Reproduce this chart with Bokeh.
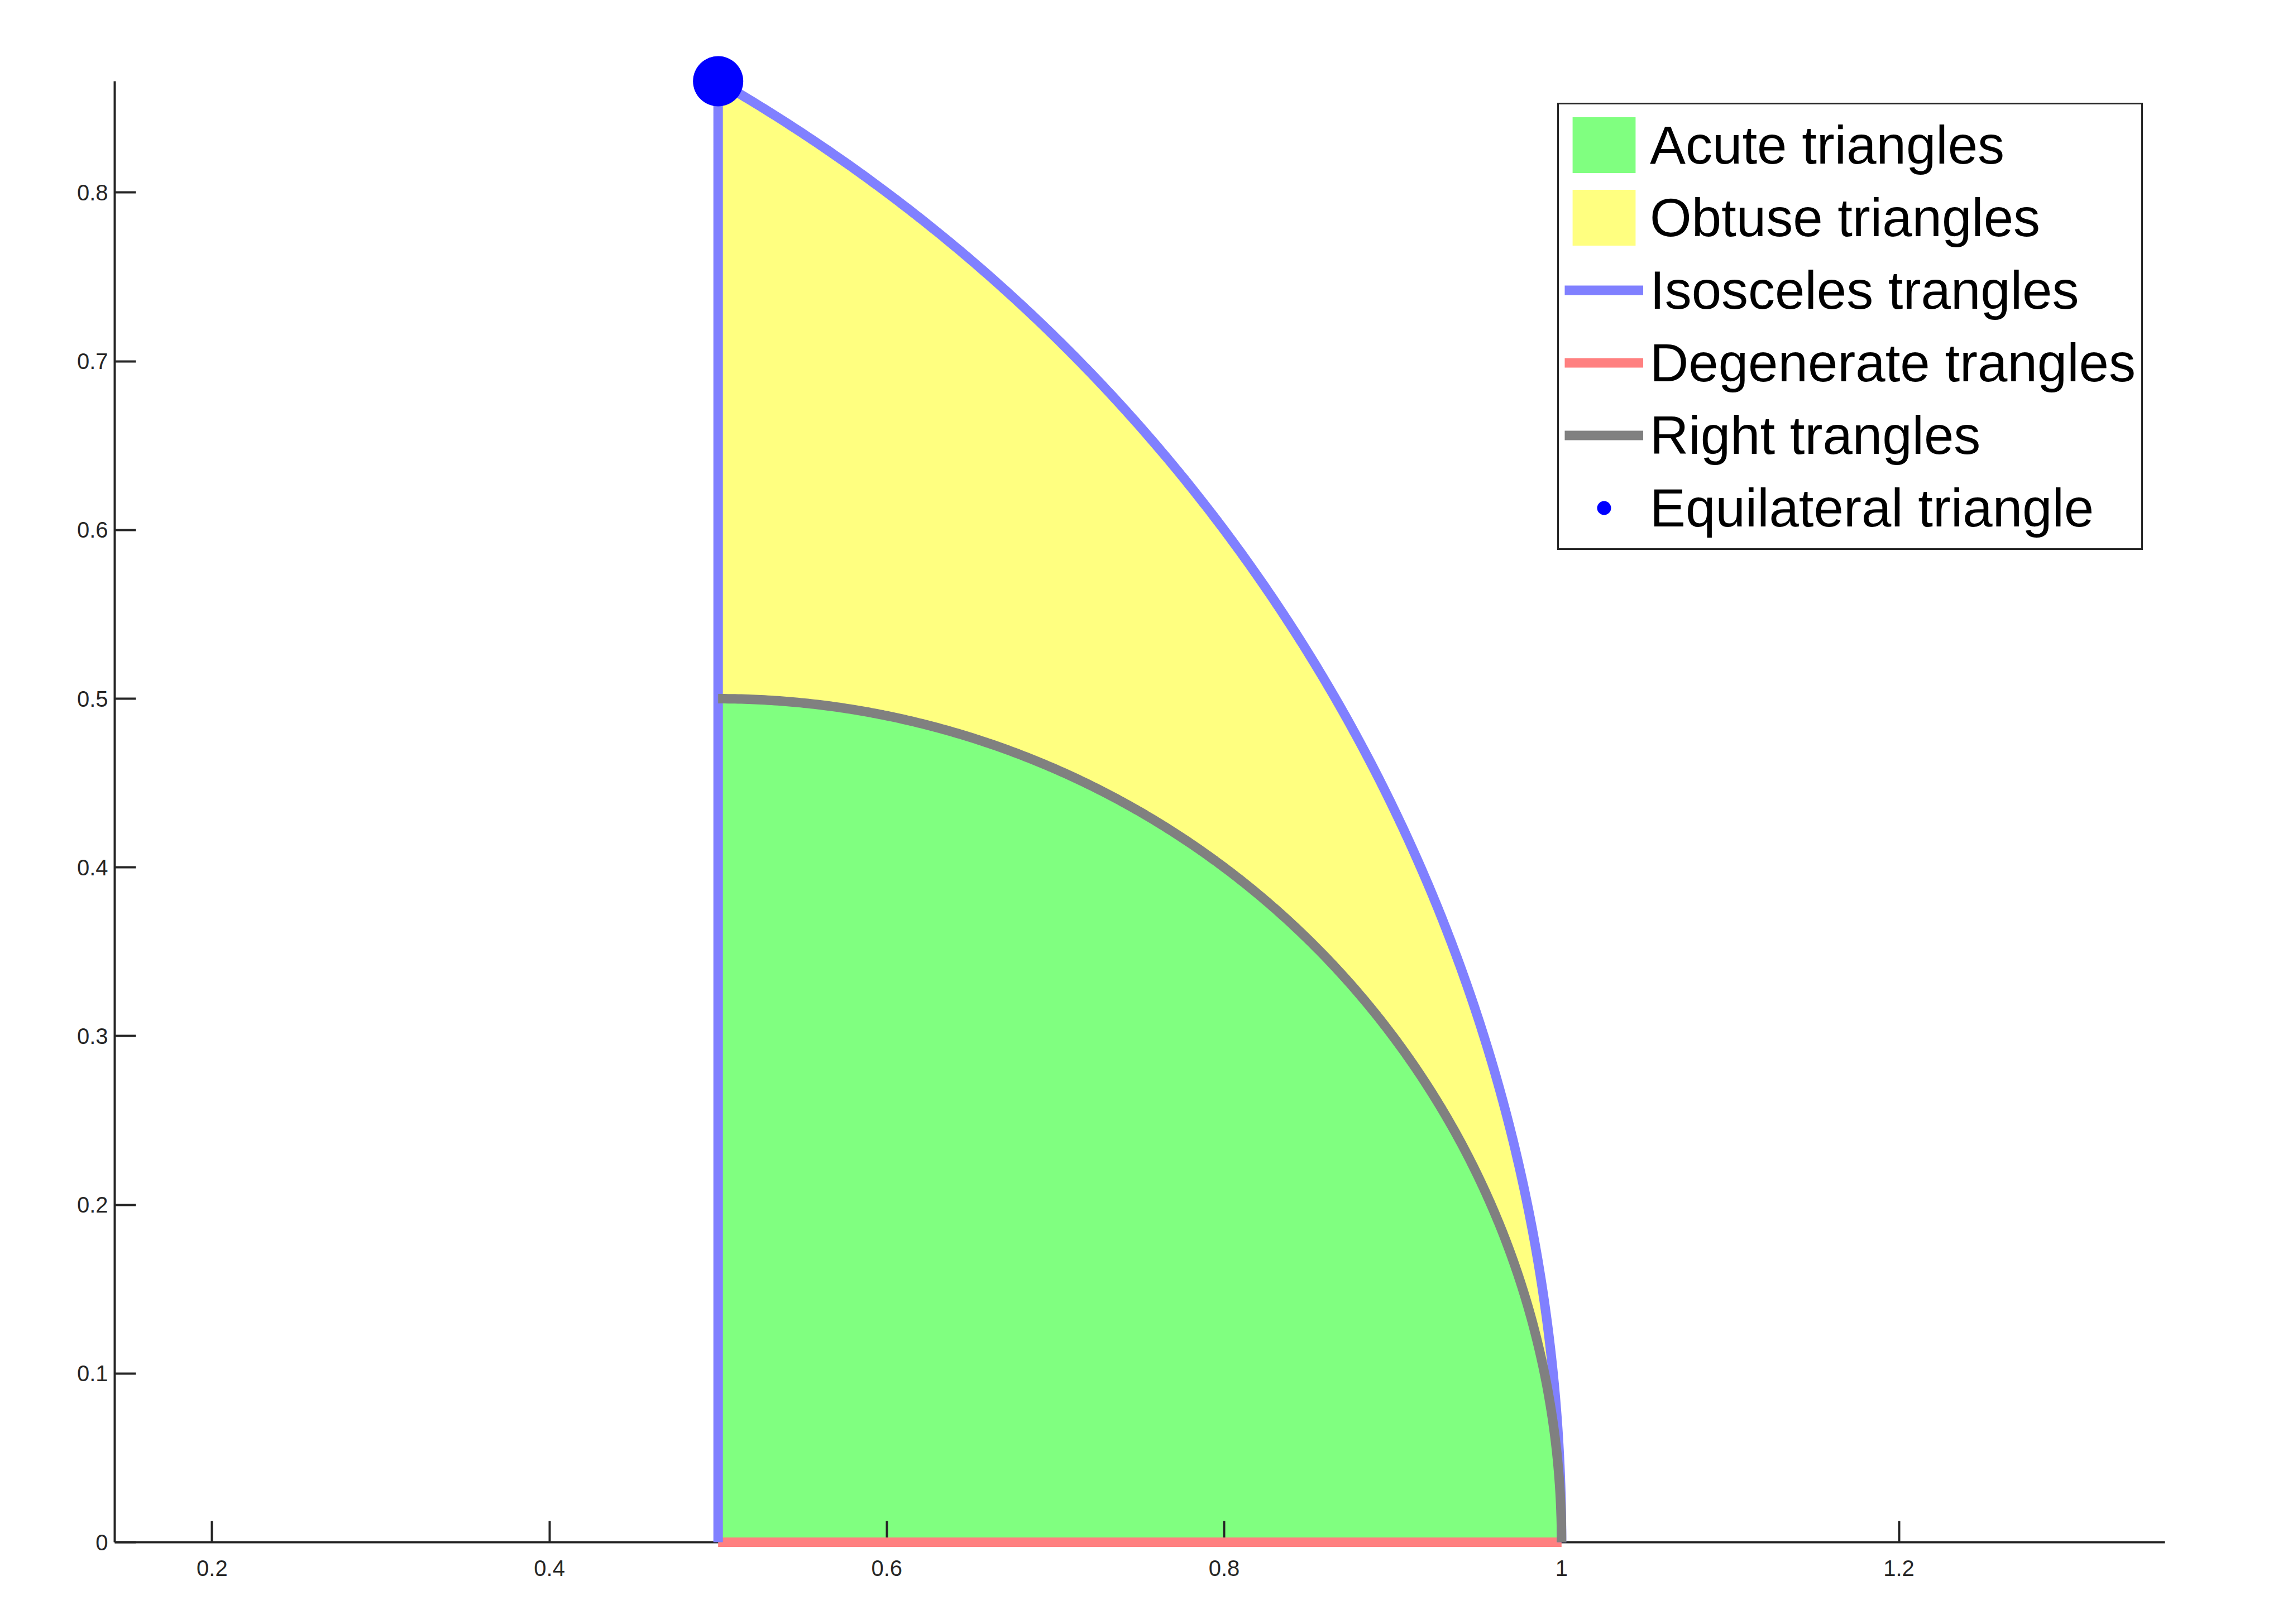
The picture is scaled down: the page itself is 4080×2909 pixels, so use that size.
import numpy as np
from bokeh.plotting import figure
from bokeh.models import Range1d, Legend, LegendItem, FixedTicker
from bokeh.embed import file_html
from bokeh.resources import INLINE

# ---- geometry / values ----
iso_center_x, iso_center_y, iso_radius = 0.0, 0.0, 1.0      # isosceles arc (unit circle)
right_center_x, right_center_y, right_radius = 0.5, 0.0, 0.5  # right-triangle arc
iso_edge_x = [0.5, 0.5]
iso_edge_y = [0.0, 0.866]
degenerate_x = [0.5, 1.0]
degenerate_y = [0.0, 0.0]
equilateral_x = [0.5]
equilateral_y = [0.866]
iso_arc_deg = [60.0, 0.0]
right_arc_deg = [90.0, 0.0]

x_limits = [0.1423, 1.3577]
y_limits = [0.0, 0.866]
x_ticks = [0.2, 0.4, 0.6, 0.8, 1.0, 1.2]
x_tick_labels = ["0.2", "0.4", "0.6", "0.8", "1", "1.2"]
y_ticks = [0.0, 0.1, 0.2, 0.3, 0.4, 0.5, 0.6, 0.7, 0.8]
y_tick_labels = ["0", "0.1", "0.2", "0.3", "0.4", "0.5", "0.6", "0.7", "0.8"]

legend_labels = ["Acute triangles", "Obtuse triangles", "Isosceles trangles",
                 "Degenerate trangles", "Right trangles", "Equilateral triangle"]

# ---- curves ----
t_iso = np.radians(np.linspace(iso_arc_deg[0], iso_arc_deg[1], 400))
iso_arc_x = iso_center_x + iso_radius * np.cos(t_iso)
iso_arc_y = iso_center_y + iso_radius * np.sin(t_iso)
t_right = np.radians(np.linspace(right_arc_deg[0], right_arc_deg[1], 400))
right_arc_x = right_center_x + right_radius * np.cos(t_right)
right_arc_y = right_center_y + right_radius * np.sin(t_right)

iso_line_x = list(iso_edge_x) + list(iso_arc_x)
iso_line_y = list(iso_edge_y) + list(iso_arc_y)

acute_x = [degenerate_x[0], degenerate_x[1]] + list(right_arc_x[::-1])
acute_y = [degenerate_y[0], degenerate_y[1]] + list(right_arc_y[::-1])
obtuse_x = [iso_edge_x[0], iso_edge_x[1]] + list(iso_arc_x) + list(right_arc_x[::-1])
obtuse_y = [right_arc_y[0], iso_edge_y[1]] + list(iso_arc_y) + list(right_arc_y[::-1])

W, H = 4064, 2893
p = figure(width=W, height=H, output_backend="svg", toolbar_location=None,
           x_range=Range1d(*x_limits), y_range=Range1d(*y_limits),
           min_border_left=205, min_border_right=187,
           min_border_top=145, min_border_bottom=131)
p.outline_line_color = None
p.xgrid.visible = False
p.ygrid.visible = False
p.background_fill_color = "white"
p.border_fill_color = "white"

AX = "#262626"
for ax, ticks, labels in ((p.xaxis[0], x_ticks, x_tick_labels), (p.yaxis[0], y_ticks, y_tick_labels)):
    ax.ticker = FixedTicker(ticks=ticks)
    ax.major_label_overrides = {t: l for t, l in zip(ticks, labels)}
    ax.axis_line_color = AX
    ax.axis_line_width = 4
    ax.major_tick_line_color = AX
    ax.major_tick_line_width = 4
    ax.major_tick_in = 38
    ax.major_tick_out = 0
    ax.minor_tick_line_color = None
    ax.major_label_text_font = "Liberation Sans"
    ax.major_label_text_font_size = "40px"
    ax.major_label_text_color = AX
p.xaxis[0].major_label_standoff = 32
p.yaxis[0].major_label_standoff = 12

LW = 17
r_acute = p.patch(acute_x, acute_y, fill_color="#80FF80", line_color=None)
r_obtuse = p.patch(obtuse_x, obtuse_y, fill_color="#FFFF80", line_color=None)

r_deg = p.line(degenerate_x, degenerate_y, line_color="#FF8080", line_width=LW, line_cap="butt")
r_iso = p.line(iso_line_x, iso_line_y, line_color="#8080FF", line_width=LW, line_cap="butt", line_join="round")
r_right = p.line(list(right_arc_x), list(right_arc_y), line_color="#808080", line_width=LW, line_cap="butt")
# small legend proxy for the equilateral point (hidden under the big marker)
r_eq_leg = p.scatter(equilateral_x, equilateral_y, marker="circle", size=50,
                     fill_color="#0000FF", line_color="white", line_width=25)
r_eq = p.scatter(equilateral_x, equilateral_y, marker="circle", size=90,
                 fill_color="#0000FF", line_color=None)
for r in (r_deg, r_iso, r_right, r_eq_leg, r_eq):
    r.level = "annotation"

legend = Legend(items=[
    LegendItem(label=legend_labels[0], renderers=[r_acute]),
    LegendItem(label=legend_labels[1], renderers=[r_obtuse]),
    LegendItem(label=legend_labels[2], renderers=[r_iso]),
    LegendItem(label=legend_labels[3], renderers=[r_deg]),
    LegendItem(label=legend_labels[4], renderers=[r_right]),
    LegendItem(label=legend_labels[5], renderers=[r_eq_leg]),
], location=(2584, 1777))
legend.label_text_font = "Liberation Sans"
legend.label_text_font_size = "96px"
legend.label_text_color = "black"
legend.glyph_width = 141
legend.glyph_height = 125
legend.label_height = 100
legend.label_standoff = 12
legend.spacing = 5
legend.padding = 10
legend.margin = 0
legend.border_line_color = AX
legend.border_line_alpha = 1.0
legend.border_line_width = 3
legend.background_fill_color = "white"
legend.background_fill_alpha = 1.0
p.add_layout(legend)

open("out.html", "w").write(file_html(p, INLINE))
